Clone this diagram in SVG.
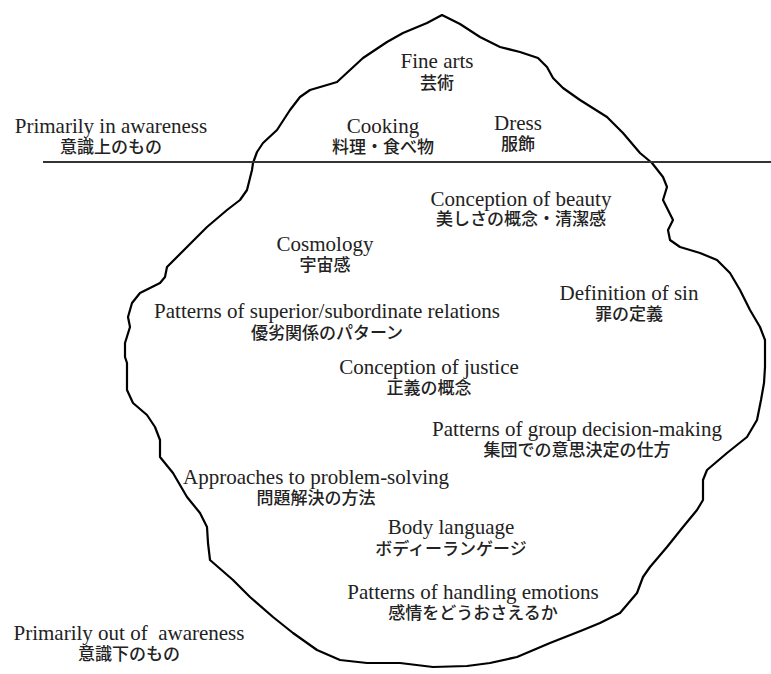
<svg xmlns="http://www.w3.org/2000/svg" width="771" height="674" viewBox="0 0 771 674">
  <style>
    .en { font-family: "Liberation Serif", "Times New Roman", serif; font-size: 21px; fill: #222; text-anchor: middle; }
    .ja { font-family: "Noto Sans CJK JP", "Noto Sans", sans-serif; font-size: 17px; font-weight: 500; fill: #222; text-anchor: middle; }
    .berg { fill: none; stroke: #000; stroke-width: 2.2; stroke-linejoin: round; stroke-linecap: round; }
    .water { stroke: #333; stroke-width: 2; }
  </style>
  <rect width="771" height="674" fill="#fff"/>

  <!-- iceberg outline and waterline -->
  <g id="outline">
    <path class="berg" d="M442,15 L460,24 L480,37 L500,47 L520,52 L538,58 L547,67 L553,78 L563,88 L580,100 L607,117 L623,133 L640,153 L652,163 L663,177 L667,187 L663,200 L668,210 L673,220 L668,230 L670,240 L680,247 L700,253 L717,260 L730,273 L740,290 L750,310 L760,327 L765,340 L765,367 L764,383 L761,400 L757,420 L747,437 L727,453 L707,470 L703,480 L703,500 L697,510 L683,527 L667,547 L650,567 L643,577 L637,593 L620,613 L600,623 L583,630 L550,643 L517,657 L490,663 L467,666 L433,667 L400,663 L367,663 L340,660 L317,650 L293,633 L273,617 L250,597 L233,580 L210,560 L208,543 L207,527 L200,513 L187,497 L173,473 L160,457 L160,440 L155,427 L147,415 L133,403 L127,390 L127,363 L125,357 L125,343 L130,327 L128,317 L132,303 L140,293 L160,283 L165,277 L167,267 L187,247 L207,227 L227,210 L240,200 L247,190 L252,170 L253,163 L257,152 L263,143 L277,130 L290,110 L300,97 L310,90 L327,85 L337,82 L350,70 L363,58 L387,42 L403,33 L427,23 Z"/>
    <line class="water" x1="43" y1="162" x2="771" y2="162"/>
  </g>

  <!-- labels above the waterline -->
  <g id="fine-arts">
    <text class="en" x="437" y="68">Fine arts</text>
    <text class="ja" x="437" y="89">芸術</text>
  </g>
  <g id="cooking">
    <text class="en" x="383" y="133">Cooking</text>
    <text class="ja" x="383" y="153">料理・食べ物</text>
  </g>
  <g id="dress">
    <text class="en" x="518" y="130">Dress</text>
    <text class="ja" x="518" y="150">服飾</text>
  </g>
  <g id="in-awareness">
    <text class="en" x="111" y="133">Primarily in awareness</text>
    <text class="ja" x="111" y="153">意識上のもの</text>
  </g>

  <!-- labels below the waterline -->
  <g id="beauty">
    <text class="en" x="521" y="206">Conception of beauty</text>
    <text class="ja" x="521" y="225">美しさの概念・清潔感</text>
  </g>
  <g id="cosmology">
    <text class="en" x="325" y="251">Cosmology</text>
    <text class="ja" x="325" y="271">宇宙感</text>
  </g>
  <g id="sin">
    <text class="en" x="629" y="300">Definition of sin</text>
    <text class="ja" x="629" y="320">罪の定義</text>
  </g>
  <g id="superior-subordinate">
    <text class="en" x="327" y="318">Patterns of superior/subordinate relations</text>
    <text class="ja" x="327" y="339">優劣関係のパターン</text>
  </g>
  <g id="justice">
    <text class="en" x="429" y="374">Conception of justice</text>
    <text class="ja" x="429" y="394">正義の概念</text>
  </g>
  <g id="group-decision">
    <text class="en" x="577" y="436">Patterns of group decision-making</text>
    <text class="ja" x="577" y="456">集団での意思決定の仕方</text>
  </g>
  <g id="problem-solving">
    <text class="en" x="316" y="484">Approaches to problem-solving</text>
    <text class="ja" x="316" y="504">問題解決の方法</text>
  </g>
  <g id="body-language">
    <text class="en" x="451" y="534">Body language</text>
    <text class="ja" x="451" y="555">ボディーランゲージ</text>
  </g>
  <g id="emotions">
    <text class="en" x="473" y="599">Patterns of handling emotions</text>
    <text class="ja" x="473" y="619">感情をどうおさえるか</text>
  </g>
  <g id="out-of-awareness">
    <text class="en" x="129" y="640" xml:space="preserve">Primarily out of  awareness</text>
    <text class="ja" x="129" y="660">意識下のもの</text>
  </g>
</svg>
